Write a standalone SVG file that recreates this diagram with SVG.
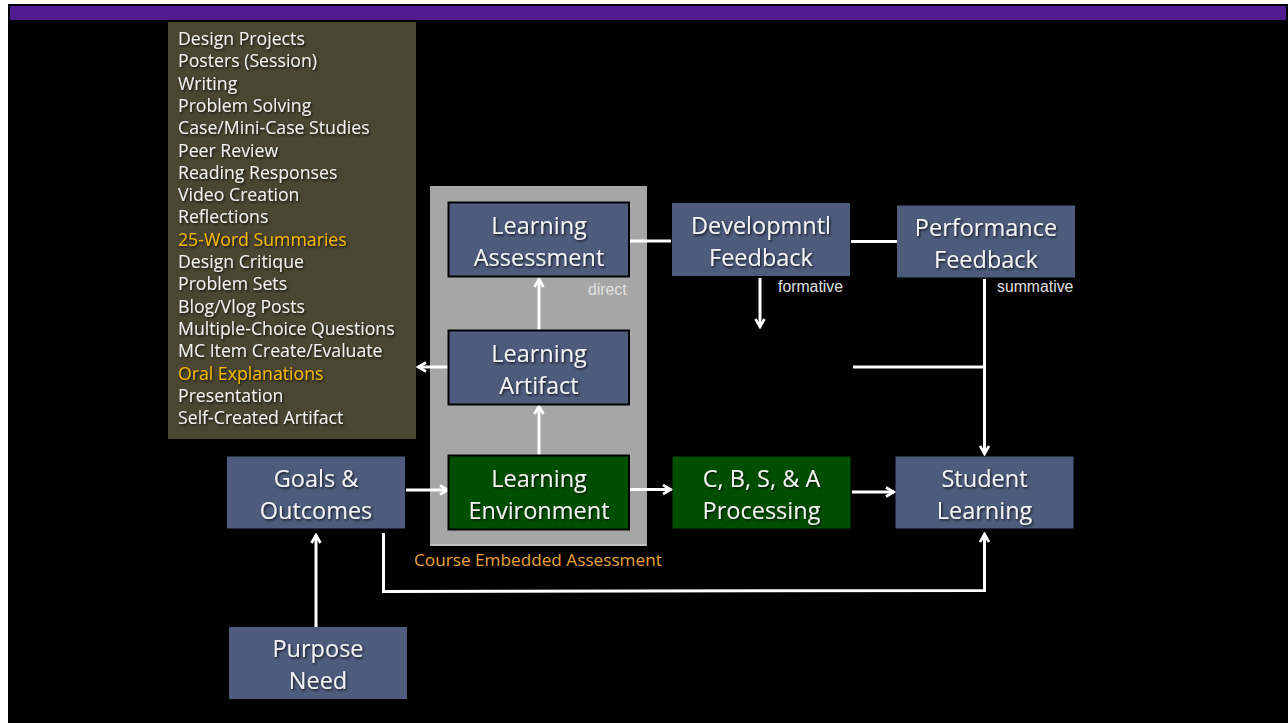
<svg xmlns="http://www.w3.org/2000/svg" width="1288" height="723" viewBox="0 0 1288 723">
<defs>
<style>
.node{fill:#4d5b7c}
.bord{stroke:#000;stroke-width:2}
.green{fill:#004f00}
.nt{font-family:"Open Sans",sans-serif;font-size:23.5px;fill:#f4f4f4;text-anchor:middle}
.lt{font-family:"Open Sans",sans-serif;font-size:17.7px;fill:#f0f0f0}
.hl{fill:#f2b600}
.sm{font-family:"Liberation Sans",Arial,sans-serif;font-size:15.8px;fill:#e0e0e0}
.cn{stroke:#fff;stroke-width:3;fill:none}
</style>
<filter id="sh" x="-10%" y="-20%" width="130%" height="150%">
<feDropShadow dx="1.2" dy="1.5" stdDeviation="0.9" flood-color="#000" flood-opacity="0.75"/>
</filter>
<marker id="ar" viewBox="0 0 12 12" refX="10" refY="6" markerWidth="12" markerHeight="12" markerUnits="userSpaceOnUse" orient="auto">
<path d="M2,1.5 L10,6 L2,10.5" fill="none" stroke="#fff" stroke-width="2.6" stroke-linejoin="miter"/>
</marker>
</defs>
<rect x="0" y="0" width="1288" height="723" fill="#fff"/>
<rect x="8" y="4" width="1280" height="719" fill="#000"/>
<rect x="10" y="6" width="1276" height="14" fill="#521b8f"/>

<g id="methods-list">
<rect x="168" y="22" width="248" height="417" fill="#4b4632"/>
<g class="lt" filter="url(#sh)">
<text x="178" y="45">Design Projects</text>
<text x="178" y="67.3">Posters (Session)</text>
<text x="178" y="89.6">Writing</text>
<text x="178" y="111.9">Problem Solving</text>
<text x="178" y="134.2">Case/Mini-Case Studies</text>
<text x="178" y="156.5">Peer Review</text>
<text x="178" y="178.8">Reading Responses</text>
<text x="178" y="201.1">Video Creation</text>
<text x="178" y="223.4">Reflections</text>
<text x="178" y="245.7" class="hl">25-Word Summaries</text>
<text x="178" y="268">Design Critique</text>
<text x="178" y="290.3">Problem Sets</text>
<text x="178" y="312.6">Blog/Vlog Posts</text>
<text x="178" y="334.9">Multiple-Choice Questions</text>
<text x="178" y="357.2">MC Item Create/Evaluate</text>
<text x="178" y="379.5" class="hl">Oral Explanations</text>
<text x="178" y="401.8">Presentation</text>
<text x="178" y="424.1">Self-Created Artifact</text>
</g>
</g>

<g id="course-embedded-assessment">
<rect x="430" y="186" width="217" height="360" fill="#a6a6a6"/>
<line x1="431" y1="545" x2="646" y2="545" stroke="#c8c8c8" stroke-width="1.5"/>
<text x="414" y="566" font-family="Open Sans, sans-serif" font-size="17.2" fill="#e8a43c">Course Embedded Assessment</text>
</g>

<g id="connectors">
<line class="cn" x1="539" y1="330" x2="539" y2="279" marker-end="url(#ar)"/>
<line class="cn" x1="539" y1="455" x2="539" y2="406" marker-end="url(#ar)"/>
<line class="cn" x1="448" y1="367" x2="418" y2="367" marker-end="url(#ar)"/>
<line class="cn" x1="630" y1="241" x2="671" y2="241"/>
<line class="cn" x1="851" y1="241.5" x2="897" y2="241.5"/>
<line class="cn" x1="760" y1="278" x2="760" y2="327" marker-end="url(#ar)"/>
<line class="cn" x1="984.5" y1="279" x2="984.5" y2="454" marker-end="url(#ar)"/>
<line class="cn" x1="853" y1="367" x2="984.5" y2="367"/>
<line class="cn" x1="406" y1="490" x2="448" y2="490" marker-end="url(#ar)"/>
<line class="cn" x1="630" y1="489.5" x2="671" y2="489.5" marker-end="url(#ar)"/>
<line class="cn" x1="852" y1="492" x2="894" y2="492" marker-end="url(#ar)"/>
<line class="cn" x1="316" y1="627" x2="316" y2="535" marker-end="url(#ar)"/>
<polyline class="cn" points="383.5,533 383.5,591.5 984.5,590.5 984.5,534" marker-end="url(#ar)"/>
<text class="sm" x="588" y="294.5">direct</text>
<text class="sm" x="778" y="291.5">formative</text>
<text class="sm" x="997" y="292">summative</text>
</g>

<g id="learning-assessment">
<rect class="node bord" x="448.5" y="202.5" width="180.5" height="74"/>
<g class="nt" filter="url(#sh)"><text x="539" y="234">Learning</text><text x="539" y="266">Assessment</text></g>
</g>
<g id="learning-artifact">
<rect class="node bord" x="448.5" y="330.5" width="180.5" height="74"/>
<g class="nt" filter="url(#sh)"><text x="539" y="361.5">Learning</text><text x="539" y="393.5">Artifact</text></g>
</g>
<g id="learning-environment">
<rect class="green bord" x="448.5" y="455.5" width="180.5" height="74"/>
<g class="nt" filter="url(#sh)"><text x="539" y="486.5">Learning</text><text x="539" y="518.5">Environment</text></g>
</g>
<g id="developmental-feedback">
<rect class="node" x="672" y="203" width="178" height="73"/>
<g class="nt" filter="url(#sh)"><text x="761" y="233.5">Developmntl</text><text x="761" y="265.5">Feedback</text></g>
</g>
<g id="performance-feedback">
<rect class="node" x="897" y="205.5" width="178" height="72"/>
<g class="nt" filter="url(#sh)"><text x="986" y="235.5">Performance</text><text x="986" y="267.5">Feedback</text></g>
</g>
<g id="goals-outcomes">
<rect class="node" x="227" y="456.5" width="178" height="72"/>
<g class="nt" filter="url(#sh)"><text x="316" y="486.5">Goals &amp;</text><text x="316" y="518.5">Outcomes</text></g>
</g>
<g id="cbsa-processing">
<rect class="green" x="672.5" y="456.5" width="178" height="72"/>
<g class="nt" filter="url(#sh)"><text x="761.5" y="486.5">C, B, S, &amp; A</text><text x="761.5" y="518.5">Processing</text></g>
</g>
<g id="student-learning">
<rect class="node" x="895.5" y="456.5" width="178" height="72"/>
<g class="nt" filter="url(#sh)"><text x="984.5" y="486.5">Student</text><text x="984.5" y="518.5">Learning</text></g>
</g>
<g id="purpose-need">
<rect class="node" x="229" y="627" width="178" height="72"/>
<g class="nt" filter="url(#sh)"><text x="318" y="657">Purpose</text><text x="318" y="689">Need</text></g>
</g>
</svg>
